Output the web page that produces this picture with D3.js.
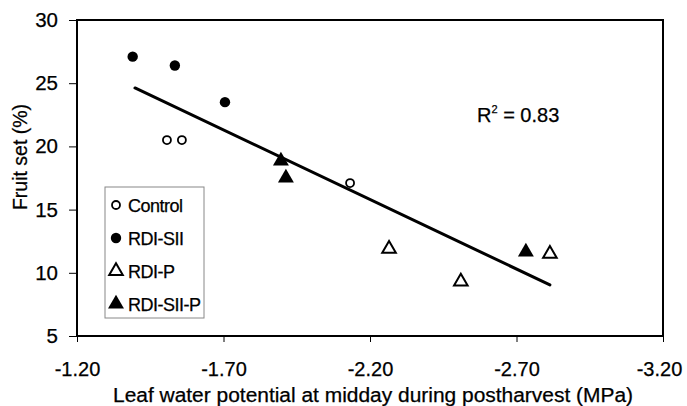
<!DOCTYPE html>
<html lang="en">
<head>
<meta charset="UTF-8">
<title>Fruit set vs leaf water potential</title>
<script src="https://d3js.org/d3.v7.min.js"></script>
<style>
    body { margin: 0; background: #fff; font-family: 'Liberation Sans', Arial, sans-serif; }
    svg { display: block; }
    text { stroke: #000; stroke-width: 0.25; }
</style>
</head>
<body>
<svg id="chart" width="687" height="406"></svg>
<script>
// --- data ---
const controlX = [-1.507, -1.558, -2.132];
const controlY = [20.5, 20.5, 17.1];
const sIIX = [-1.39, -1.534, -1.705];
const sIIY = [27.1, 26.4, 23.5];
const pX = [-2.265, -2.51, -2.814];
const pY = [11.9, 9.3, 11.5];
const sIIPX = [-1.896, -1.913, -2.732];
const sIIPY = [18.85, 17.5, 11.65];
const xTicks = [-1.2, -1.7, -2.2, -2.7, -3.2];
const yTicks = [5, 10, 15, 20, 25, 30];
const fitSlope = 11.0, fitIntercept = 40.0, fitRange = [-1.398, -2.814];
const legendNames = ["Control", "RDI-SII", "RDI-P", "RDI-SII-P"];

const svg = d3.select("#chart");
const m = { left: 77, right: 24, top: 20, bottom: 70 };
const W = 687, H = 406;
const font = "'Liberation Sans', Arial, sans-serif";

const x = d3.scaleLinear().domain([-1.2, -3.2]).range([m.left, W - m.right]);
const y = d3.scaleLinear().domain([5, 30]).range([H - m.bottom, m.top]);

// frame
svg.append("rect")
    .attr("x", x(-1.2)).attr("y", y(30))
    .attr("width", x(-3.2) - x(-1.2)).attr("height", y(5) - y(30))
    .attr("fill", "none").attr("stroke", "#000").attr("stroke-width", 2);

svg.append("g")
    .attr("transform", `translate(0,${y(5)})`)
    .call(d3.axisBottom(x).tickValues(xTicks).tickFormat(d => d.toFixed(2)).tickSize(6).tickPadding(20))
    .call(g => g.select(".domain").remove())
    .call(g => g.attr("font-size", 20).attr("font-family", font))
    .call(g => g.selectAll("line").attr("stroke", "#000"))
    // last label sits a little left of its tick so it stays inside the page
    .call(g => g.selectAll(".tick:last-of-type text").attr("dx", -4));

svg.append("g")
    .attr("transform", `translate(${x(-1.2)},0)`)
    .call(d3.axisLeft(y).tickValues(yTicks).tickSize(8).tickPadding(11))
    .call(g => g.select(".domain").remove())
    .call(g => g.attr("font-size", 20.5).attr("font-family", font))
    .call(g => g.selectAll("line").attr("stroke", "#000"));

// axis titles
svg.append("text")
    .attr("x", 113).attr("y", 402)
    .attr("font-size", 20).attr("font-family", font)
    .attr("textLength", 520).attr("lengthAdjust", "spacingAndGlyphs")
    .text("Leaf water potential at midday during postharvest (MPa)");

svg.append("text")
    .attr("transform", `translate(27,157) rotate(-90)`)
    .attr("text-anchor", "middle").attr("font-size", 19.5).attr("font-family", font)
    .text("Fruit set (%)");

// regression line
svg.append("line")
    .attr("x1", x(fitRange[0])).attr("y1", y(fitSlope * fitRange[0] + fitIntercept))
    .attr("x2", x(fitRange[1])).attr("y2", y(fitSlope * fitRange[1] + fitIntercept))
    .attr("stroke", "#000").attr("stroke-width", 3).attr("stroke-linecap", "round");

// markers
const openCircle = g => g.append("circle").attr("r", 4).attr("fill", "#fff").attr("stroke", "#000").attr("stroke-width", 1.8);
const fillCircle = g => g.append("circle").attr("r", 5.2).attr("fill", "#000");
const triPath = d3.symbol().type(d3.symbolTriangle).size(80)();
const openTri = g => g.append("path").attr("d", triPath).attr("fill", "#fff").attr("stroke", "#000").attr("stroke-width", 2);
const fillTri = g => g.append("path").attr("d", d3.symbol().type(d3.symbolTriangle).size(110)()).attr("fill", "#000");
const drawers = [openCircle, fillCircle, openTri, fillTri];

const series = [
    [controlX, controlY],
    [sIIX, sIIY],
    [pX, pY],
    [sIIPX, sIIPY]
];

series.forEach(([xs, ys], i) => {
    xs.forEach((v, j) => {
        const g = svg.append("g").attr("transform", `translate(${x(v)},${y(ys[j])})`);
        drawers[i](g);
    });
});

// R² label
const r2 = svg.append("text").attr("x", 477).attr("y", 122).attr("font-size", 20).attr("font-family", font);
r2.append("tspan").text("R");
r2.append("tspan").attr("font-size", 11).attr("dy", -9).text("2");
r2.append("tspan").attr("dy", 9).text(" = 0.83");

// legend
const lg = svg.append("g").attr("transform", "translate(105,187)");
lg.append("rect").attr("width", 99).attr("height", 131)
    .attr("fill", "#fff").attr("stroke", "#888").attr("stroke-width", 1);
legendNames.forEach((name, i) => {
    const cy = 18 + i * 33;
    const g = lg.append("g").attr("transform", `translate(11,${cy})`);
    drawers[i](g);
    lg.append("text").attr("x", 23).attr("y", cy + 7)
        .attr("font-size", 18).attr("font-family", font).attr("letter-spacing", -0.5)
        .text(name);
});
</script>
</body>
</html>
